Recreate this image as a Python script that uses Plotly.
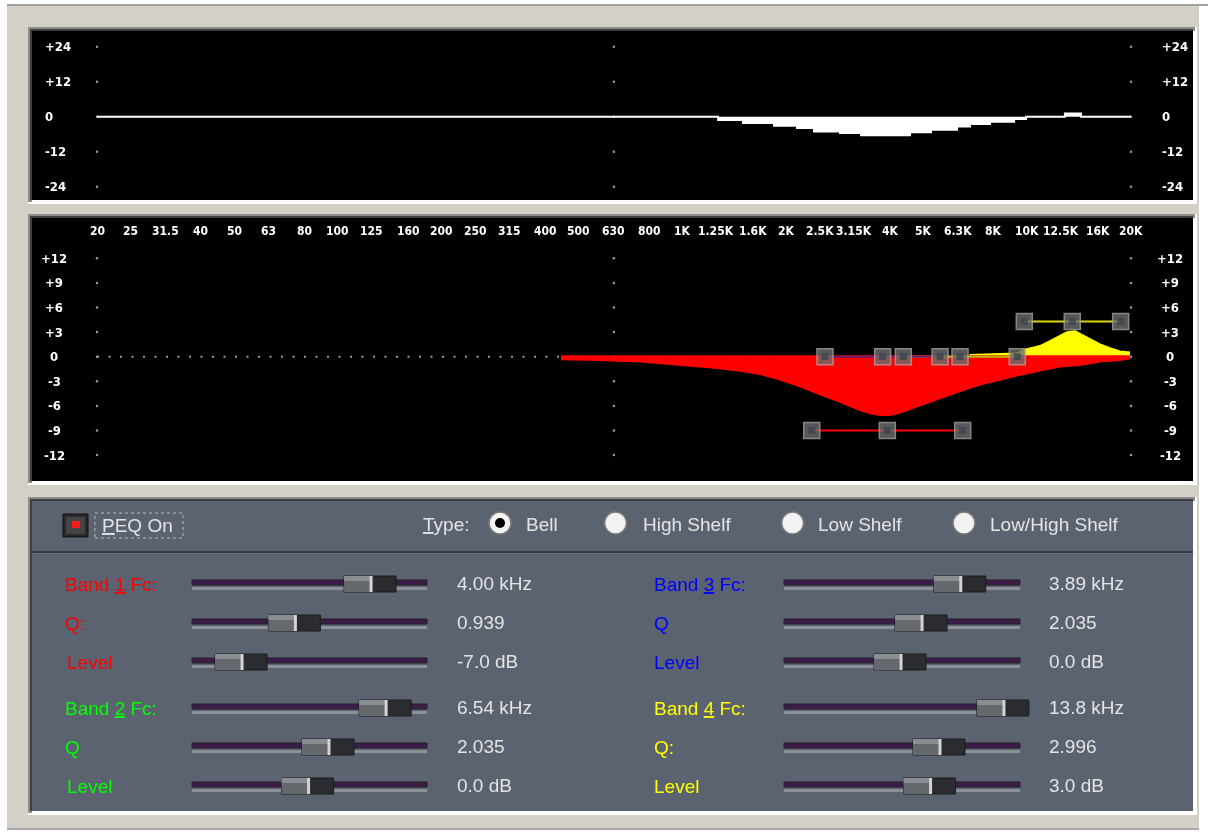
import math
import plotly.graph_objects as go

# ---------------- data ----------------
freq_ticks = [20, 25, 31.5, 40, 50, 63, 80, 100, 125, 160, 200, 250, 315, 400, 500,
              630, 800, 1000, 1250, 1600, 2000, 2500, 3150, 4000, 5000, 6300, 8000,
              10000, 12500, 16000, 20000]
freq_labels = ["20", "25", "31.5", "40", "50", "63", "80", "100", "125", "160", "200",
               "250", "315", "400", "500", "630", "800", "1K", "1.25K", "1.6K", "2K",
               "2.5K", "3.15K", "4K", "5K", "6.3K", "8K", "10K", "12.5K", "16K", "20K"]
grid_freqs = [20, 632, 20000]

top_ticks = [24, 12, 0, -12, -24]
top_tick_text = ["+24", "+12", "0", "-12", "-24"]
eq_ticks = [12, 9, 6, 3, 0, -3, -6, -9, -12]
eq_tick_text = ["+12", "+9", "+6", "+3", "0", "-3", "-6", "-9", "-12"]

# overall response (stepped display)
top_freq = [20, 1268, 1497, 1842, 2148, 2406, 2862, 3294, 4572, 5260, 6256, 6820,
            7800, 9160, 9920, 12860, 14320, 20000]
top_db = [0, -1.1, -2.2, -3.1, -3.9, -5.1, -5.6, -6.4, -5.3, -4.5, -3.4, -2.5,
          -1.7, -0.8, 0, 1.1, 0, 0]

# band 1 (red) curve
red_freq = [444, 576, 752, 919, 1101, 1284, 1468, 1678, 1918, 2191, 2505, 2863, 3272,
            3498, 3740, 3999, 4274, 4886, 5585, 6381, 7293, 8336, 9529, 10890, 12446,
            14226, 16258, 18580, 19868]
red_db = [-0.3, -0.4, -0.6, -0.9, -1.1, -1.4, -1.7, -2.1, -2.8, -3.6, -4.6, -5.5, -6.5,
          -6.9, -7.1, -7.1, -6.8, -5.9, -5.0, -4.2, -3.4, -2.8, -2.2, -1.7, -1.2,
          -1.0, -0.6, -0.4, -0.2]

# band 4 (yellow) curve
yel_freq = [6800, 8336, 9338, 9852, 10890, 11641, 12446, 13048, 13762, 14226, 15207,
            16258, 17378, 18580, 19868]
yel_db = [0.2, 0.3, 0.4, 0.85, 1.3, 1.9, 2.5, 3.0, 3.1, 2.8, 2.1, 1.5, 1.05, 0.65, 0.5]

# drag handles per band
handle_freqs = [[2370, 3927, 6498], [4370, 6381, 9358], [2590, 3806, 5585], [9805, 13510, 18668]]
handle_levels = [-9, 0, 0, 4.3]
handle_line_colors = ["#ff0000", "#b8b800", "#6a1a6a", "#d8d800"]

# control panel
type_options = ["Bell", "High Shelf", "Low Shelf", "Low/High Shelf"]
type_selected = 0
band_colors = ["#ff0000", "#00ff00", "#0000ff", "#ffff00"]
band_digits = ["1", "2", "3", "4"]
band_param_names = [["Fc:", "Q:", "Level"], ["Fc:", "Q", "Level"],
                    ["Fc:", "Q", "Level"], ["Fc:", "Q:", "Level"]]
band_values = [["4.00 kHz", "0.939", "-7.0 dB"], ["6.54 kHz", "2.035", "0.0 dB"],
               ["3.89 kHz", "2.035", "0.0 dB"], ["13.8 kHz", "2.996", "3.0 dB"]]
slider_pos = [[0.762, 0.440, 0.213], [0.826, 0.583, 0.496],
              [0.749, 0.585, 0.496], [0.932, 0.661, 0.621]]

# ---------------- geometry (pixels) ----------------
W, H = 1208, 832
CH_L, CH_R = 32, 1193
TOP_T, TOP_B = 31, 200
EQ_T, EQ_B = 218, 481
CTL_T, CTL_B = 501, 811
X20, X20K = 97, 1131
PXDEC = (X20K - X20) / 3.0
TOP_ZERO, TOP_PXDB = 116.7, 2.9167
EQ_ZERO, EQ_PXDB = 356.7, 8.2


def px(x):
    return x / W


def py(y):
    return 1 - y / H


lg20 = math.log10(20)
xrange_log = [lg20 + (CH_L - X20) / PXDEC, lg20 + (CH_R - X20) / PXDEC]

LCD = dict(family="DejaVu Sans Condensed, DejaVu Sans", size=12, color="white", weight="bold")
LCD_Y = dict(LCD, size=13)
UI = "Liberation Sans, Arial, sans-serif"

fig = go.Figure()

# grid dots
for xa, ya, ticks in [("x", "y", top_ticks), ("x2", "y2", eq_ticks)]:
    gx, gy = [], []
    for t in ticks:
        for f in grid_freqs:
            gx.append(f)
            gy.append(t)
    fig.add_trace(go.Scatter(x=gx, y=gy, mode="markers", xaxis=xa, yaxis=ya,
                             marker=dict(size=2.5, color="#9a9a9a"), hoverinfo="skip"))

# top: overall response
fig.add_trace(go.Scatter(x=top_freq, y=top_db, mode="lines", line_shape="hv",
                         fill="tozeroy", fillcolor="white",
                         line=dict(color="white", width=2), xaxis="x", yaxis="y"))

# EQ: dotted zero line
fig.add_trace(go.Scatter(x=[20, 20000], y=[0, 0], mode="lines", xaxis="x2", yaxis="y2",
                         line=dict(color="#9a9a9a", width=2, dash="2px,9.5px")))

# band 4 and band 1 curves
fig.add_trace(go.Scatter(x=yel_freq, y=yel_db, mode="lines", fill="tozeroy",
                         fillcolor="#ffff00", line=dict(color="#ffff00", width=2),
                         xaxis="x2", yaxis="y2"))
fig.add_trace(go.Scatter(x=red_freq, y=red_db, mode="lines", fill="tozeroy",
                         fillcolor="#ff0000", line=dict(color="#ff0000", width=2),
                         xaxis="x2", yaxis="y2"))
fig.add_trace(go.Scatter(x=[red_freq[0], red_freq[-1]], y=[0, 0], mode="lines",
                         line=dict(color="#ff0000", width=3), xaxis="x2", yaxis="y2"))

# handle bars
for order in [1, 2, 0, 3]:
    fig.add_trace(go.Scatter(x=handle_freqs[order], y=[handle_levels[order]] * 3,
                             mode="lines", line=dict(color=handle_line_colors[order], width=2),
                             xaxis="x2", yaxis="y2"))
hx, hy = [], []
for fs, lv in zip(handle_freqs, handle_levels):
    hx += fs
    hy += [lv] * len(fs)
fig.add_trace(go.Scatter(x=hx, y=hy, mode="markers", xaxis="x2", yaxis="y2", opacity=0.8,
                         marker=dict(symbol="square", size=16, color="#6e6e6e",
                                     line=dict(color="#a8a8a8", width=1.5))))
fig.add_trace(go.Scatter(x=hx, y=hy, mode="markers", xaxis="x2", yaxis="y2", opacity=0.8,
                         marker=dict(symbol="square", size=7, color="#3a4652")))

shapes = []


def rect(x0, y0, x1, y1, color, line=None):
    shapes.append(dict(type="rect", xref="paper", yref="paper", layer="below",
                       x0=px(x0), x1=px(x1), y0=py(y1), y1=py(y0),
                       fillcolor=color, line=dict(width=0) if line is None else line))


def sunken(x0, y0, x1, y1, fill):
    rect(x0 - 4, y0 - 4, x1 + 4, y1 + 4, "#ffffff")
    rect(x0 - 4, y0 - 4, x1 + 2, y0, "#8c8c8c")
    rect(x0 - 4, y0 - 4, x0, y1 + 2, "#8c8c8c")
    rect(x0 - 2, y0 - 2, x1, y0, "#404040")
    rect(x0 - 2, y0 - 2, x0, y1, "#404040")
    rect(x0, y0, x1, y1, fill)


# window background
rect(7, 6, 1199, 828, "#d4d0c8")
rect(7, 4, 1208, 6, "#a0a0a0")
rect(7, 828, 1199, 830, "#a8a8a8")

sunken(CH_L, TOP_T, CH_R, TOP_B, "#000000")
sunken(CH_L, EQ_T, CH_R, EQ_B, "#000000")
sunken(CH_L, CTL_T, CH_R, CTL_B, "#5c6370")
rect(CH_L, 551, CH_R, 553, "#363b43")
rect(CH_L, 553, CH_R, 554, "#6a7280")

# LED button + focus box
rect(63, 514, 88, 537, "#2a2a2a", dict(color="#111111", width=1))
rect(66, 517, 85, 534, "#454545")
rect(72, 521, 80, 528, "#ff1a1a")
shapes.append(dict(type="rect", xref="paper", yref="paper", layer="below",
                   x0=px(95), x1=px(183), y0=py(538), y1=py(513),
                   line=dict(color="#a9c4c0", width=1, dash="dot")))

# radio buttons
radio_x = [500, 615.5, 792.6, 964]
label_x = [524, 640.7, 816, 987.6]
for i, cx in enumerate(radio_x):
    shapes.append(dict(type="circle", xref="paper", yref="paper", layer="below",
                       x0=px(cx - 11), x1=px(cx + 11), y0=py(534), y1=py(512),
                       fillcolor="#f2f2f2", line=dict(color="#7a7a7a", width=1.5)))
    if i == type_selected:
        shapes.append(dict(type="circle", xref="paper", yref="paper", layer="below",
                           x0=px(cx - 5), x1=px(cx + 5), y0=py(528), y1=py(518),
                           fillcolor="#000000", line=dict(width=0)))

# sliders
col_track = [(192, 427), (784, 1020)]
row_y = [[584, 623, 662], [708, 747, 786]]
for b in range(4):
    col = b // 2
    rows = row_y[b % 2]
    t0, t1 = col_track[col]
    for r in range(3):
        y = rows[r]
        rect(t0, y - 4, t1, y + 1, "#3d1c4c", dict(color="#202020", width=1))
        rect(t0, y + 3, t1, y + 6, "#8b9099")
        c = t0 + slider_pos[b][r] * (t1 - t0)
        rect(c - 27, y - 8, c + 25, y + 8, "#2a2c2f", dict(color="#1c1c1c", width=1))
        rect(c - 27, y - 8, c - 1, y + 8, "#65686d")
        rect(c - 27, y - 8, c - 1, y - 3, "#8a8d92")
        rect(c - 1.5, y - 8, c + 1.5, y + 8, "#d4d4d4")

annotations = []
# tick labels
for t, s in zip(top_ticks, top_tick_text):
    for xx in [43, 1160]:
        annotations.append(dict(text=s, xref="paper", yref="y", x=px(xx), y=t,
                                xanchor="left", yanchor="middle", showarrow=False, font=LCD_Y))
for t, s in zip(eq_ticks, eq_tick_text):
    for xx in [54, 1170]:
        annotations.append(dict(text=s, xref="paper", yref="y2", x=px(xx), y=t,
                                xanchor="center", yanchor="middle", showarrow=False, font=LCD_Y))
for f, s in zip(freq_ticks, freq_labels):
    annotations.append(dict(text=s, xref="x2", yref="paper", x=math.log10(f), y=py(231),
                            xanchor="center", yanchor="middle", showarrow=False, font=LCD))

UL = '<span style="text-decoration:underline">%s</span>'
txt = "#e4e4e4"


def label(s, x, y, color=txt, anchor="left"):
    annotations.append(dict(text=s, xref="paper", yref="paper", x=px(x), y=py(y),
                            xanchor=anchor, yanchor="middle", showarrow=False,
                            font=dict(family=UI, size=19, color=color)))


label(UL % "P" + "EQ On", 100, 525)
label(UL % "T" + "ype:", 421, 524)
for i, s in enumerate(type_options):
    label(s, label_x[i], 524)

lab_x = [63, 651.5]
val_x = [455, 1047]
for b in range(4):
    col = b // 2
    rows = row_y[b % 2]
    for r in range(3):
        name = band_param_names[b][r]
        if r == 0:
            name = "Band " + UL % band_digits[b] + " " + name
        label(name, lab_x[col] + (2 if r == 2 and col == 0 else 0), rows[r], band_colors[b])
        label(band_values[b][r], val_x[col], rows[r] - 1)

axis_off = dict(visible=False, showgrid=False, zeroline=False, fixedrange=True)
fig.update_layout(
    width=W, height=H, margin=dict(l=0, r=0, t=0, b=0),
    paper_bgcolor="white", plot_bgcolor="rgba(0,0,0,0)", showlegend=False,
    xaxis=dict(axis_off, type="log", range=xrange_log, domain=[px(CH_L), px(CH_R)], anchor="y"),
    yaxis=dict(axis_off, range=[(TOP_ZERO - TOP_B) / TOP_PXDB, (TOP_ZERO - TOP_T) / TOP_PXDB],
               domain=[py(TOP_B), py(TOP_T)], anchor="x"),
    xaxis2=dict(axis_off, type="log", range=xrange_log, domain=[px(CH_L), px(CH_R)], anchor="y2"),
    yaxis2=dict(axis_off, range=[(EQ_ZERO - EQ_B) / EQ_PXDB, (EQ_ZERO - EQ_T) / EQ_PXDB],
                domain=[py(EQ_B), py(EQ_T)], anchor="x2"),
    shapes=shapes, annotations=annotations,
)

fig.write_html("out.html", config={"displayModeBar": False},
               post_script="document.body.style.margin='0';document.body.style.overflow='hidden';")
